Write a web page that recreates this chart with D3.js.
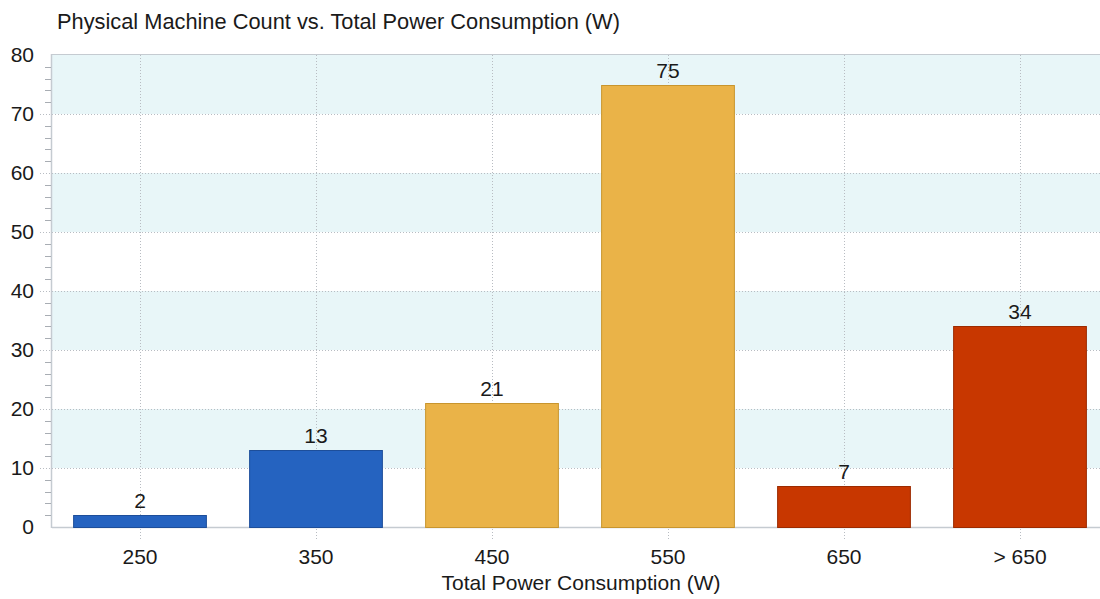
<!DOCTYPE html>
<html>
<head>
<meta charset="utf-8">
<script src="https://cdn.jsdelivr.net/npm/d3@7"></script>
<style>
  html, body { margin: 0; padding: 0; background: #fff; }
  svg text { font-family: "Liberation Sans", "DejaVu Sans", sans-serif; fill: #1a1a1a; }
</style>
</head>
<body>
<svg id="chart" width="1100" height="599"></svg>
<script>
// Machine counts per power-consumption bucket
const categories = ["250", "350", "450", "550", "650", "> 650"];
const counts = [2, 13, 21, 75, 7, 34];
const barColors = ["#2563c0", "#2563c0", "#eab348", "#eab348", "#c83700", "#c83700"];
const barStrokes = ["#1d4e9a", "#1d4e9a", "#c8952e", "#c8952e", "#9c2b00", "#9c2b00"];
const yTicks = [0, 10, 20, 30, 40, 50, 60, 70, 80];

const svg = d3.select("#chart");
const plotLeft = 52, plotTop = 55, plotBottom = 527, plotRight = 52 + 176 * 6;
const fontSize = "21px";

const x = d3.scaleBand().domain(categories).range([plotLeft, plotRight]).paddingInner(0.24).paddingOuter(0.12);
const y = d3.scaleLinear().domain([0, 80]).range([plotBottom, plotTop]);

// Alternating background bands
const bands = d3.range(10, 80, 20);
svg.append("g").selectAll("rect").data(bands).join("rect")
  .attr("x", plotLeft).attr("width", plotRight - plotLeft)
  .attr("y", d => y(d + 10)).attr("height", d => y(d) - y(d + 10))
  .attr("fill", "#e8f6f8");

// Horizontal dotted grid lines
svg.append("g").selectAll("line").data(yTicks.filter(d => d > 0 && d < 80)).join("line")
  .attr("x1", 40).attr("x2", plotRight)
  .attr("y1", d => Math.round(y(d)) + 0.5).attr("y2", d => Math.round(y(d)) + 0.5)
  .attr("stroke", "#b8bcc2").attr("stroke-dasharray", "1,2");

// Vertical dotted grid lines at category centres
svg.append("g").selectAll("line").data(categories).join("line")
  .attr("x1", d => Math.round(x(d) + x.bandwidth() / 2) + 0.5)
  .attr("x2", d => Math.round(x(d) + x.bandwidth() / 2) + 0.5)
  .attr("y1", plotTop).attr("y2", plotBottom + 14)
  .attr("stroke", "#b8bcc2").attr("stroke-dasharray", "1,2");

// Plot frame: top and left edges, baseline
svg.append("line").attr("x1", plotLeft).attr("x2", plotRight).attr("y1", plotTop - 0.5).attr("y2", plotTop - 0.5)
  .attr("stroke", "#c5cbd1").attr("stroke-width", 1);
svg.append("line").attr("x1", plotLeft - 0.5).attr("x2", plotLeft - 0.5).attr("y1", plotTop - 1).attr("y2", plotBottom + 1)
  .attr("stroke", "#c5cbd1").attr("stroke-width", 1.5);
svg.append("line").attr("x1", plotLeft).attr("x2", plotRight).attr("y1", plotBottom + 0.5).attr("y2", plotBottom + 0.5)
  .attr("stroke", "#c5cbd1").attr("stroke-width", 1.5);

// Minor ticks on the y axis every 2 units
svg.append("g").selectAll("line").data(d3.range(2, 80, 2).filter(d => d % 10 !== 0)).join("line")
  .attr("x1", 45).attr("x2", plotLeft - 1)
  .attr("y1", d => Math.round(y(d)) + 0.5).attr("y2", d => Math.round(y(d)) + 0.5)
  .attr("stroke", "#a8adb3");

// Y axis labels
const yAxis = d3.axisLeft(y).tickValues(yTicks).tickSize(0).tickPadding(0);
const gy = svg.append("g").attr("transform", `translate(34,0)`).call(yAxis);
gy.select(".domain").remove();
gy.selectAll("text").style("font-size", fontSize).attr("dy", "0.3em")
  .style("font-family", "'Liberation Sans', sans-serif").attr("fill", "#1a1a1a");

// X axis labels
const xAxis = d3.axisBottom(x).tickSize(0).tickPadding(0);
const gx = svg.append("g").attr("transform", `translate(0,${plotBottom + 30})`).call(xAxis);
gx.select(".domain").remove();
gx.selectAll("text").style("font-size", fontSize).attr("dy", "0.35em")
  .style("font-family", "'Liberation Sans', sans-serif").attr("fill", "#1a1a1a");

// Bars
svg.append("g").selectAll("rect").data(counts).join("rect")
  .attr("x", (d, i) => x(categories[i]) + 0.5)
  .attr("y", d => Math.round(y(d)) + 0.5)
  .attr("width", x.bandwidth() - 1)
  .attr("height", d => Math.round(y(0)) - Math.round(y(d)))
  .attr("fill", (d, i) => barColors[i])
  .attr("stroke", (d, i) => barStrokes[i]).attr("stroke-width", 1);

// Value labels above bars
svg.append("g").selectAll("text").data(counts).join("text")
  .attr("x", (d, i) => x(categories[i]) + x.bandwidth() / 2)
  .attr("y", d => y(d) - 7)
  .attr("text-anchor", "middle")
  .style("font-size", fontSize)
  .text(d => d);

// Title and axis title
svg.append("text").attr("x", 57).attr("y", 29).style("font-size", "21.8px")
  .text("Physical Machine Count vs. Total Power Consumption (W)");
svg.append("text").attr("x", 581).attr("y", 590).attr("text-anchor", "middle").style("font-size", fontSize)
  .text("Total Power Consumption (W)");
</script>
</body>
</html>
